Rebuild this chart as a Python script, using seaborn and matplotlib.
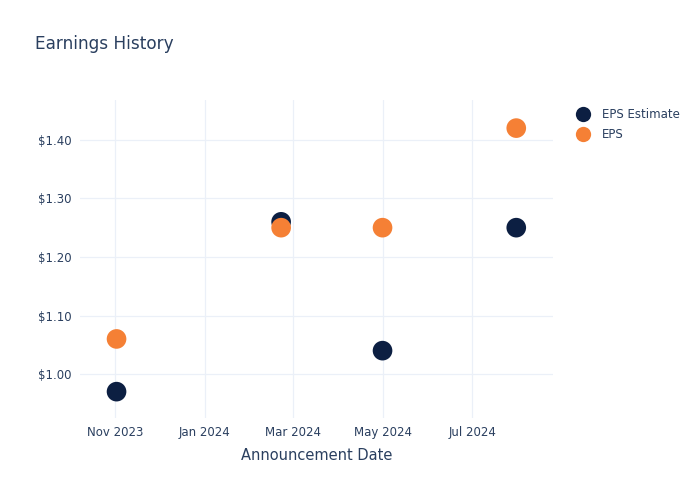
import matplotlib
matplotlib.use("Agg")
import matplotlib.pyplot as plt
import matplotlib.dates as mdates
from matplotlib.ticker import FuncFormatter
from matplotlib.lines import Line2D
import seaborn as sns
import pandas as pd

dates = ["2023-11-02", "2024-02-22", "2024-05-01", "2024-07-31"]
eps_estimate = [0.97, 1.26, 1.04, 1.25]
eps_actual = [1.06, 1.25, 1.25, 1.42]
series_names = ["EPS Estimate", "EPS"]
colors = ["#0c1f42", "#f58035"]

df = pd.DataFrame({
    "date": pd.to_datetime(dates * 2),
    "value": eps_estimate + eps_actual,
    "series": [series_names[0]] * len(dates) + [series_names[1]] * len(dates),
})

sns.set_theme(style="white")
plt.rcParams["font.family"] = ["DejaVu Sans"]
text_color = "#2a3f5f"

fig = plt.figure(figsize=(7, 5), dpi=100)
ax = fig.add_axes([0.114, 0.164, 0.676, 0.636])

sns.scatterplot(data=df, x="date", y="value", hue="series",
                palette=dict(zip(series_names, colors)), s=200,
                edgecolor="none", ax=ax, legend=False, zorder=3)

ax.set_xlim(pd.Timestamp("2023-10-08"), pd.Timestamp("2024-08-25"))
ax.set_ylim(0.925, 1.468)
ax.xaxis.set_major_locator(mdates.MonthLocator(bymonth=[1, 3, 5, 7, 11]))
ax.xaxis.set_major_formatter(mdates.DateFormatter("%b %Y"))
ax.set_yticks([1.0, 1.1, 1.2, 1.3, 1.4])
ax.yaxis.set_major_formatter(FuncFormatter(lambda v, p: f"${v:.2f}"))

ax.grid(True, color="#ebf0f8", linewidth=0.9)
for s in ax.spines.values():
    s.set_visible(False)
ax.tick_params(axis="both", length=0, labelsize=8.5, colors=text_color, pad=6)
ax.set_xlabel("Announcement Date", fontsize=10.5, color=text_color, labelpad=6)
ax.set_ylabel("")

fig.text(0.05, 0.912, "Earnings History", fontsize=12.2, color=text_color, va="center")

handles = [Line2D([], [], marker="o", linestyle="none", markersize=11,
                  markerfacecolor=c, markeredgecolor="none") for c in colors]
leg = fig.legend(handles, series_names, loc="upper left",
                 bbox_to_anchor=(0.816, 0.793), frameon=False,
                 fontsize=8.5, handletextpad=1.0, labelspacing=0.55,
                 borderaxespad=0, handlelength=1.2)
for t in leg.get_texts():
    t.set_color(text_color)

fig.savefig("out.png", dpi=100)
